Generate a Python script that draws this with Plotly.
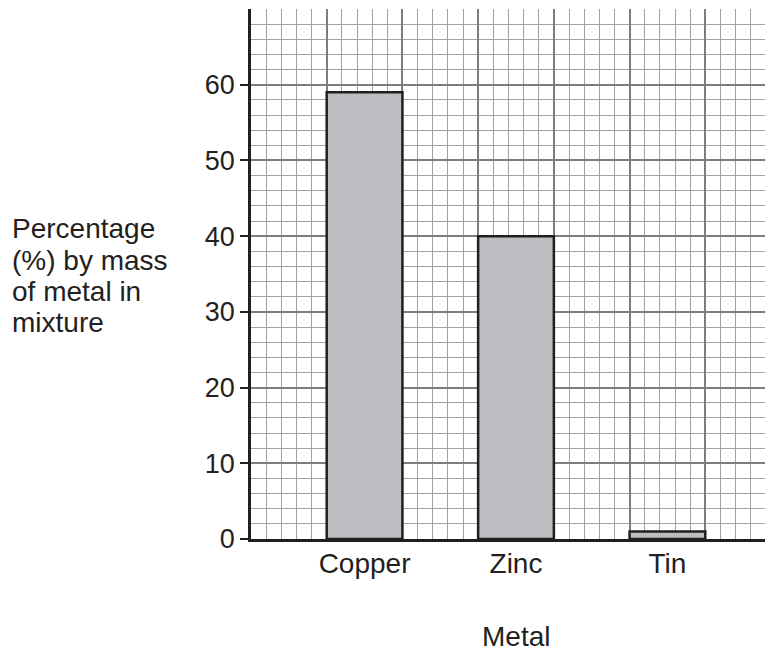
import plotly.graph_objects as go

metals = ["Copper", "Zinc", "Tin"]
metal_pos = [1.5, 3.5, 5.5]
percent = [59, 40, 1]
y_ticks = [0, 10, 20, 30, 40, 50, 60]
y_label_lines = ["Percentage", "(%) by mass", "of metal in", "mixture"]
x_title = "Metal"

INK = "#231f20"
FONT = dict(family="Liberation Sans, Arial, sans-serif", size=28, color=INK)
TICKFONT = dict(family="Liberation Sans, Arial, sans-serif", size=27, color=INK)
MAJOR = "#7d7d7d"
MINOR = "#a3a3a3"

OFF = 8  # page body margin
W, H = 773 - OFF, 652 - OFF
L, T = 251 - OFF, 9 - OFF
R = 0
B = H - (539 - OFF)
plot_h = H - T - B
plot_w = W - L - R
xmax = plot_w / (plot_h / 70) / 10

fig = go.Figure()
fig.add_trace(go.Bar(
    x=metal_pos, y=percent, width=1.0,
    marker=dict(color="#bcbdc0", line=dict(color=INK, width=2.5)),
    xaxis="x", yaxis="y", hoverinfo="skip",
))
fig.add_trace(go.Scatter(
    x=metal_pos, y=percent, mode="markers", marker=dict(opacity=0),
    xaxis="x2", yaxis="y", hoverinfo="skip", showlegend=False,
))

fig.update_layout(
    width=W, height=H,
    margin=dict(l=L, r=R, t=T, b=B, pad=0, autoexpand=False),
    plot_bgcolor="white", paper_bgcolor="white",
    showlegend=False,
    font=FONT,
    xaxis=dict(
        range=[0, xmax], dtick=1, tick0=0,
        showgrid=True, gridcolor=MAJOR, gridwidth=1.5,
        minor=dict(dtick=0.2, tick0=0, showgrid=True, gridcolor=MINOR, gridwidth=1),
        showticklabels=False, ticks="", zeroline=False, automargin=False,
        showline=True, linecolor=INK, linewidth=2.5,
    ),
    xaxis2=dict(
        overlaying="x", range=[0, xmax], side="bottom",
        tickvals=metal_pos, ticktext=metals, ticks="", tickangle=0,
        showgrid=False, zeroline=False, showline=False, automargin=False,
        tickfont=FONT, ticklabelstandoff=5,
    ),
    yaxis=dict(
        range=[0, 70], tickvals=y_ticks,
        showgrid=True, gridcolor=MAJOR, gridwidth=1.5,
        minor=dict(dtick=2, tick0=0, showgrid=True, gridcolor=MINOR, gridwidth=1),
        ticks="outside", ticklen=8, tickwidth=1.5, tickcolor=INK,
        zeroline=False, showline=True, linecolor=INK, linewidth=2.5,
        tickfont=TICKFONT, automargin=False,
    ),
)

for line, py in zip(y_label_lines, [228, 260, 291, 322]):
    fig.add_annotation(
        text=line, xref="paper", yref="paper",
        x=(10 - OFF - L) / plot_w, y=(H - B - (py - OFF)) / plot_h,
        xanchor="left", yanchor="middle", showarrow=False, font=FONT,
    )

fig.add_annotation(
    text=x_title, xref="x", yref="paper",
    x=metal_pos[1], y=(H - B - (636 - OFF)) / plot_h,
    xanchor="center", yanchor="middle", showarrow=False, font=FONT,
)

fig.write_html("out.html")
